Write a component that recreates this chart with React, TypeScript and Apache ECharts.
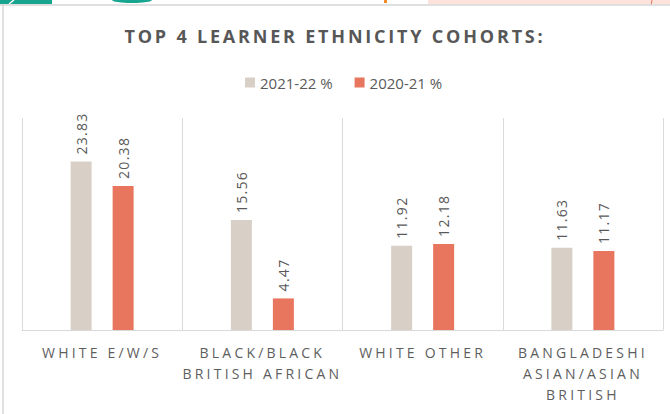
import React, { useEffect, useRef } from "react";
import * as echarts from "echarts";

const categories = [
  "WHITE E/W/S",
  "BLACK/BLACK\nBRITISH AFRICAN",
  "WHITE OTHER",
  "BANGLADESHI\nASIAN/ASIAN\nBRITISH",
];
const seriesNames = ["2021-22 %", "2020-21 %"];
const values2122 = [23.83, 15.56, 11.92, 11.63];
const values2021 = [20.38, 4.47, 12.18, 11.17];

const TITLE_COLOR = "#575757";
const AXIS_COLOR = "#5e5e5e";
const LABEL_COLOR = "#595959";
const LEGEND_COLOR = "#5a5a5a";

const css = `
.chartbox text[fill="${TITLE_COLOR}"], .chartbox text[fill="rgb(87,87,87)"] { letter-spacing: 2.8px; }
.chartbox text[fill="${AXIS_COLOR}"], .chartbox text[fill="rgb(94,94,94)"] { letter-spacing: 3.2px; }
.chartbox text[fill="${LABEL_COLOR}"], .chartbox text[fill="rgb(89,89,89)"] { letter-spacing: 1.3px; }
`;

export default function App() {
  const ref = useRef<HTMLDivElement>(null);
  useEffect(() => {
    if (!ref.current) return;
    const chart = echarts.init(ref.current, undefined, { renderer: "svg" });
    const font = "'Open Sans', sans-serif";
    const labelCfg = {
      show: true,
      position: "top",
      rotate: 90,
      align: "left",
      verticalAlign: "middle",
      distance: 7,
      color: LABEL_COLOR,
      fontSize: 14,
      fontFamily: font,
    };
    chart.setOption({
      animation: false,
      backgroundColor: "#ffffff",
      title: {
        text: "TOP 4 LEARNER ETHNICITY COHORTS:",
        left: "center",
        top: 22,
        textStyle: {
          color: TITLE_COLOR,
          fontSize: 18,
          fontWeight: "bold",
          fontFamily: font,
        },
      },
      legend: {
        top: 70,
        left: 240,
        itemWidth: 10,
        itemHeight: 10,
        itemGap: 22,
        icon: "rect",
        textStyle: { color: LEGEND_COLOR, fontSize: 15, fontFamily: font },
        data: seriesNames,
      },
      grid: { left: 22, right: 7, top: 118, bottom: 84 },
      xAxis: {
        type: "category",
        data: categories,
        axisLine: { lineStyle: { color: "#d9d9d9", width: 1 } },
        axisTick: { show: false },
        splitLine: { show: true, lineStyle: { color: "#d9d9d9", width: 1 } },
        axisLabel: {
          interval: 0,
          color: AXIS_COLOR,
          fontSize: 14,
          lineHeight: 21,
          margin: 12,
          fontFamily: font,
        },
      },
      yAxis: { type: "value", min: 0, max: 30, show: false },
      series: [
        {
          name: seriesNames[0],
          type: "bar",
          data: values2122,
          barWidth: 21,
          barGap: "100%",
          itemStyle: { color: "#d8cfc6" },
          label: labelCfg,
        },
        {
          name: seriesNames[1],
          type: "bar",
          data: values2021,
          barWidth: 21,
          barGap: "100%",
          itemStyle: { color: "#e8765f" },
          label: labelCfg,
        },
      ],
      graphic: [
        { type: "rect", shape: { x: 0, y: 0, width: 52, height: 4 }, style: { fill: "#17a590" }, silent: true },
        { type: "line", shape: { x1: 9, y1: 4, x2: 14, y2: 0 }, style: { stroke: "#ffffff", lineWidth: 1.5 }, silent: true },
        { type: "ellipse", shape: { cx: 132, cy: 0, rx: 20, ry: 3 }, style: { fill: "#17a590" }, silent: true },
        { type: "rect", shape: { x: 384, y: 0, width: 3, height: 3 }, style: { fill: "#f08a2a" }, silent: true },
        { type: "rect", shape: { x: 428, y: 0, width: 242, height: 4 }, style: { fill: "#fde3dc" }, silent: true },
        { type: "line", shape: { x1: 652, y1: 0, x2: 651, y2: 5 }, style: { stroke: "#e8765f", lineWidth: 1 }, silent: true },
        { type: "line", shape: { x1: 0, y1: 5, x2: 670, y2: 5 }, style: { stroke: "#d6d6d6", lineWidth: 1.5 }, silent: true },
        { type: "line", shape: { x1: 3, y1: 5, x2: 3, y2: 414 }, style: { stroke: "#d6d6d6", lineWidth: 1.5 }, silent: true },
      ],
    });
    return () => chart.dispose();
  }, []);
  return (
    <>
      <style>{css}</style>
      <div
        ref={ref}
        className="chartbox"
        style={{ position: "fixed", left: 0, top: 0, width: 670, height: 414 }}
      />
    </>
  );
}
